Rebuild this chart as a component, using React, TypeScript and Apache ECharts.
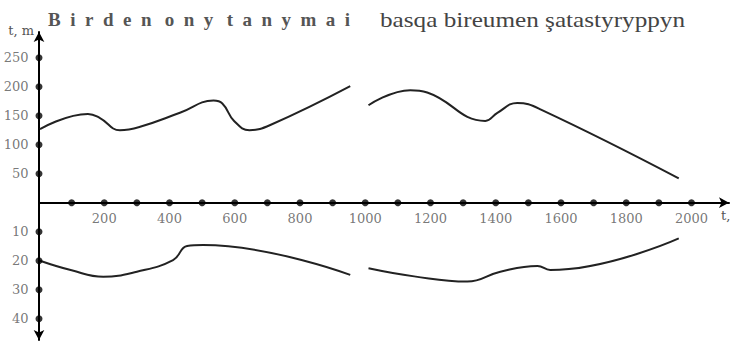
import React, { useEffect, useRef } from "react";
import * as echarts from "echarts";

// Time axis (t) and the two measured quantities; the lower quantity is plotted
// below the t-axis on its own scale (1 unit below = 5 units above).
const upperLeftT = [3, 150, 187, 248, 310, 432, 535, 562, 598, 645, 709, 954];
const upperLeft = [127, 153, 146, 125, 131, 155, 176, 171, 141, 125, 134, 201];
const upperRightT = [1010, 1138, 1190, 1368, 1405, 1466, 1537, 1961];
const upperRight = [168, 194, 190, 141, 155, 172, 161, 42];

const lowerLeftT = [3, 100, 197, 300, 411, 454, 503, 954];
const lowerLeft = [20, 23.3, 25.5, 23.8, 19.8, 14.9, 14.6, 24.9];
const lowerRightT = [1010, 1150, 1313, 1414, 1528, 1567, 1961];
const lowerRight = [22.6, 25.4, 27.2, 23.8, 21.8, 23.2, 12.3];

const xTicks = [100, 200, 300, 400, 500, 600, 700, 800, 900, 1000, 1100, 1200, 1300, 1400, 1500, 1600, 1700, 1800, 1900, 2000];
const xLabelled = [200, 400, 600, 800, 1000, 1200, 1400, 1600, 1800, 2000];
const yTicksUpper = [50, 100, 150, 200, 250];
const yTicksLower = [10, 20, 30, 40];

const LOWER_SCALE = 5;
const titleLeft = ["Birden", "ony", "tanymai"];
const titleRight = "basqa bireumen şatastyryppyn";

const pair = (ts: number[], vs: number[], k = 1) => ts.map((t, i) => [t, vs[i] * k]);

export default function App() {
  const ref = useRef<HTMLDivElement>(null);
  useEffect(() => {
    if (!ref.current) return;
    const chart = echarts.init(ref.current, null, { renderer: "svg" });
    const lineStyle = { color: "#222", width: 2 };
    const curve = (data: number[][]) => ({
      type: "line",
      data,
      smooth: 0.45,
      showSymbol: false,
      lineStyle,
      z: 3,
    });
    const serif = "'Liberation Serif', 'DejaVu Serif', serif";
    const tickFont = "'DejaVu Serif', serif";
    const spaced = titleLeft.map((w) => w.split("").join("\u2002")).join("\u2002\u2009");
    chart.setOption({
      animation: false,
      grid: { left: 39, right: 3, top: 32, bottom: 8, containLabel: false, outerBoundsMode: "none" },
      xAxis: {
        type: "value",
        min: 0,
        max: 2115,
        interval: 100,
        axisLine: {
          onZero: true,
          lineStyle: { color: "#000", width: 2 },
          symbol: ["none", "arrow"],
          symbolSize: [8, 10],
        },
        axisTick: { show: false },
        splitLine: { show: false },
        axisLabel: { show: false },
      },
      yAxis: {
        type: "value",
        min: -236.7,
        max: 294.3,
        axisLine: {
          lineStyle: { color: "#000", width: 2 },
          symbol: ["arrow", "arrow"],
          symbolSize: [8, 10],
        },
        axisTick: { show: false },
        splitLine: { show: false },
        axisLabel: { show: false },
      },
      series: [
        curve(pair(upperLeftT, upperLeft)),
        curve(pair(upperRightT, upperRight)),
        curve(pair(lowerLeftT, lowerLeft, -LOWER_SCALE)),
        curve(pair(lowerRightT, lowerRight, -LOWER_SCALE)),
        {
          type: "scatter",
          data: xTicks.map((t) => [t, 0]),
          symbolSize: 7,
          itemStyle: { color: "#000" },
          z: 4,
          label: {
            show: true,
            position: "bottom",
            distance: 6,
            color: "#555",
            fontFamily: tickFont,
            fontSize: 13,
            formatter: (p: any) => (xLabelled.includes(p.data[0]) ? String(p.data[0]) : ""),
          },
        },
        {
          type: "scatter",
          data: [
            ...yTicksUpper.map((v) => [0, v, v]),
            ...yTicksLower.map((v) => [0, -v * LOWER_SCALE, v]),
          ],
          symbolSize: 7,
          itemStyle: { color: "#000" },
          z: 4,
          label: {
            show: true,
            position: "left",
            distance: 7,
            color: "#555",
            fontFamily: tickFont,
            fontSize: 13,
            formatter: (p: any) => String(p.data[2]),
          },
        },
      ],
      graphic: [
        {
          type: "text",
          x: 48,
          y: 10,
          style: {
            text: spaced,
            fill: "#555",
            font: `bold 19px ${serif}`,
          },
        },
        {
          type: "text",
          x: 380,
          y: 9,
          scaleX: 1.2,
          style: {
            text: titleRight,
            fill: "#444",
            font: `21px ${serif}`,
          },
        },
        {
          type: "text",
          x: 34,
          y: 24,
          style: { text: "t, m", fill: "#555", font: `13px ${tickFont}`, align: "right" },
        },
        {
          type: "text",
          x: 721,
          y: 209,
          style: { text: "t,", fill: "#555", font: `13px ${tickFont}` },
        },
      ],
    });
    return () => chart.dispose();
  }, []);
  return (
    <div
      ref={ref}
      style={{ position: "fixed", left: 0, top: 0, width: 732, height: 348, background: "#fff" }}
    />
  );
}
